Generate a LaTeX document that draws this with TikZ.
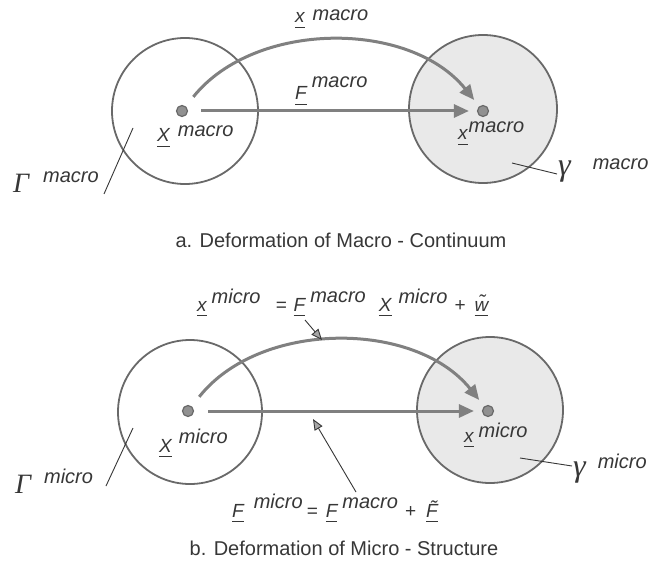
\documentclass[tikz,border=0pt]{standalone}
\usepackage{fontspec}
\setmainfont{Liberation Sans}
\newfontfamily\grkfnt{Liberation Serif}
\usetikzlibrary{arrows.meta}
\definecolor{arrgray}{RGB}{128,128,128}
\definecolor{circgray}{RGB}{105,105,105}
\definecolor{fillgray}{RGB}{233,233,233}
\definecolor{txtgray}{RGB}{55,55,55}
\definecolor{dotgray}{RGB}{145,145,145}
\newcommand\basefnt{\fontsize{19bp}{22bp}\selectfont\itshape}
\newcommand\supfnt{\fontsize{20bp}{23bp}\selectfont\itshape}
\newcommand\grkstyle{\grkfnt\fontsize{28bp}{30bp}\selectfont\itshape}
\newcommand\grksmall{\grkfnt\fontsize{32bp}{34bp}\selectfont\itshape}
\newcommand\ulbar[1]{\setbox0\hbox{#1}\rlap{\rule[-5bp]{\wd0}{0.8bp}}\box0}
\newcommand\vlab[4]{{\basefnt #1}\hspace{#3}\raisebox{#4}{\supfnt #2}}
\begin{document}
\begin{tikzpicture}[x=1bp,y=-1bp,
  ring/.style={circle,draw=circgray,line width=1.8bp,inner sep=0pt},
  ringfill/.style={ring,fill=fillgray},
  pt/.style={circle,fill=dotgray,draw=circgray,line width=1.2bp,minimum size=11bp,inner sep=0pt},
  maparrow/.style={draw=arrgray,line width=3bp,-{Triangle[length=15bp,width=13bp]}},
  leader/.style={draw=txtgray,line width=0.9bp},
  pointer/.style={draw=txtgray,line width=0.9bp,-{Triangle[length=11bp,width=9bp,fill=arrgray!70]}},
  lbl/.style={inner sep=0pt,anchor=base west,text=txtgray},
  captxt/.style={inner sep=0pt,text=txtgray,font=\fontsize{20bp}{24bp}\selectfont}]
\useasboundingbox (0,0) rectangle (660,569);
\fill[white] (0,0) rectangle (660,569);
% ---------- a. macro ----------
\node[ring, minimum size=146bp] (c1) at (185,111) {};
\node[ringfill, minimum size=148bp] (c2) at (483,109) {};
\node[pt] (p1) at (182,111) {};
\node[pt] (p2) at (483,111) {};
\draw[maparrow, shorten <=13bp, shorten >=8bp] (p1) -- (p2);
\draw[maparrow, shorten <=12bp, shorten >=8bp] (p1) .. controls (255,20) and (410,20) .. (p2);
\node[lbl] (l1) at (295,23) {\vlab{\ulbar{x}}{macro}{8bp}{2bp}};
\node[lbl] (l2) at (295,100) {\vlab{\ulbar{F}}{macro}{5bp}{12bp}};
\node[lbl] (l3) at (157,142) {\vlab{\ulbar{X}}{macro}{8bp}{5bp}};
\node[lbl] (l4) at (458,140) {\vlab{\ulbar{x}}{macro}{1bp}{7bp}};
\node[lbl] (g1) at (13,193) {{\grkstyle Γ}\hspace{14bp}\raisebox{10bp}{\supfnt macro}};
\node[lbl] (g2) at (558,176) {{\grksmall γ}\hspace{22bp}\raisebox{6bp}{\supfnt macro}};
\coordinate (ga1) at (104,194); \coordinate (ga2) at (133,128);
\draw[leader] (ga1) -- (ga2);
\coordinate (gb1) at (512,163); \coordinate (gb2) at (557,174);
\draw[leader] (gb1) -- (gb2);
\node[captxt] (capa) at (341,240) {a. Deformation of Macro - Continuum};
% ---------- b. micro ----------
\node[ring, minimum size=144bp] (c3) at (190,412) {};
\node[ringfill, minimum size=146bp] (c4) at (490,410) {};
\node[pt] (p3) at (188,411) {};
\node[pt] (p4) at (488,411) {};
\draw[maparrow, shorten <=14bp, shorten >=8bp] (p3) -- (p4);
\draw[maparrow, shorten <=12bp, shorten >=8bp] (p3) .. controls (260,320) and (415,320) .. (p4);
\node[lbl] (e1) at (197,311) {{\basefnt\ulbar{x}}\hspace{5bp}\raisebox{8bp}{\supfnt micro}\hspace{15bp}{\basefnt =}\hspace{7bp}{\basefnt\ulbar{F}}\hspace{5bp}\raisebox{9bp}{\supfnt macro}\hspace{13bp}{\basefnt\ulbar{X}}\hspace{7bp}\raisebox{8bp}{\supfnt micro}\hspace{7bp}{\basefnt +}\hspace{9bp}{\basefnt\ulbar{\~{w}}}};
\coordinate (pa1) at (305,320); \coordinate (pa2) at (322,340);
\draw[pointer] (pa1) -- (pa2);
\node[lbl] (l5) at (159,452) {\vlab{\ulbar{X}}{micro}{7bp}{9bp}};
\node[lbl] (l6) at (464,442) {\vlab{\ulbar{x}}{micro}{5bp}{5bp}};
\node[lbl] (g3) at (15,493) {{\grkstyle Γ}\hspace{13bp}\raisebox{10bp}{\supfnt micro}};
\node[lbl] (g4) at (573,476) {{\grksmall γ}\hspace{12bp}\raisebox{8bp}{\supfnt micro}};
\coordinate (gc1) at (106,486); \coordinate (gc2) at (133,428);
\draw[leader] (gc1) -- (gc2);
\coordinate (gd1) at (520,458); \coordinate (gd2) at (572,466);
\draw[leader] (gd1) -- (gd2);
\node[lbl] (e2) at (232,517) {{\basefnt\ulbar{F}}\hspace{10bp}\raisebox{9bp}{\supfnt micro}\hspace{4bp}{\basefnt =}\hspace{8bp}{\basefnt\ulbar{F}}\hspace{5bp}\raisebox{9bp}{\supfnt macro}\hspace{7bp}{\basefnt +}\hspace{10bp}{\basefnt\ulbar{\~{F}}}};
\coordinate (pb1) at (356,492); \coordinate (pb2) at (313,419);
\draw[pointer] (pb1) -- (pb2);
\node[captxt] (capb) at (344,548) {b. Deformation of Micro - Structure};
\end{tikzpicture}
\end{document}
